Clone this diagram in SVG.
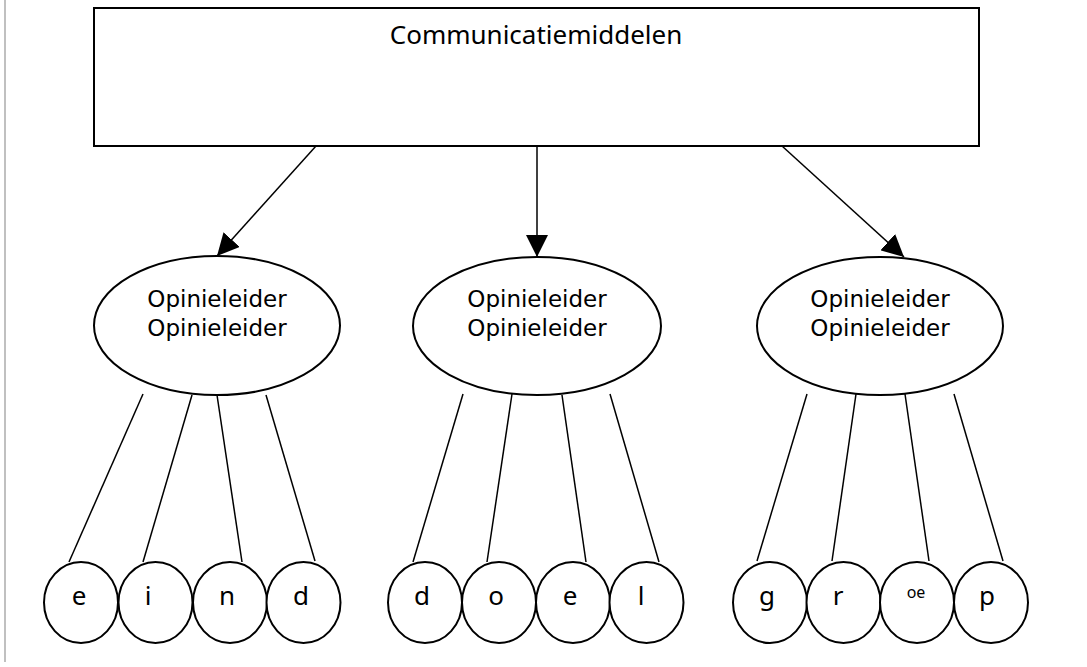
<svg xmlns="http://www.w3.org/2000/svg" width="1087" height="667" viewBox="0 0 1087 667">
<style>
.shape{fill:#fff;stroke:#000;stroke-width:2}
.edge{stroke:#000;stroke-width:1.5;fill:none}
.t{font-family:"Noto Sans","Open Sans",sans-serif;fill:#000;text-anchor:middle}
.big{font-size:26px}
.mid{font-family:"DejaVu Sans","Noto Sans",sans-serif;font-size:23px}
.let{font-size:26px}
.small{font-size:16px}
</style>
<defs>
<marker id="arr" markerUnits="userSpaceOnUse" markerWidth="22" markerHeight="22" viewBox="0 0 20 20" refX="20" refY="10" orient="auto">
<path d="M0,0 L20,10 L0,20 Z" fill="#000"/>
</marker>
</defs>
<rect width="1087" height="667" fill="#fff"/>
<line x1="5" y1="0" x2="5" y2="662" stroke="#c0c0c0" stroke-width="2"/>
<g id="connectors">
<line class="edge" x1="316" y1="146" x2="217" y2="256" marker-end="url(#arr)"/>
<line class="edge" x1="537" y1="146" x2="537" y2="257" marker-end="url(#arr)"/>
<line class="edge" x1="782" y1="146" x2="904" y2="257" marker-end="url(#arr)"/>
<line class="edge" x1="143" y1="394" x2="69" y2="562"/>
<line class="edge" x1="192" y1="395" x2="143" y2="562"/>
<line class="edge" x1="217" y1="395" x2="242" y2="562"/>
<line class="edge" x1="266" y1="395" x2="315" y2="561"/>
<line class="edge" x1="463" y1="394" x2="413" y2="562"/>
<line class="edge" x1="512" y1="394" x2="487" y2="562"/>
<line class="edge" x1="562" y1="395" x2="586" y2="562"/>
<line class="edge" x1="610" y1="394" x2="659" y2="562"/>
<line class="edge" x1="807" y1="394" x2="757" y2="561"/>
<line class="edge" x1="856" y1="394" x2="832" y2="561"/>
<line class="edge" x1="905" y1="394" x2="929" y2="561"/>
<line class="edge" x1="954" y1="394" x2="1003" y2="561"/>
</g>
<g id="communicatiemiddelen">
<rect class="shape" x="94" y="8" width="885" height="138"/>
<text class="t big" x="536" y="44">Communicatiemiddelen</text>
</g>
<g id="opinie1">
<ellipse class="shape" cx="217" cy="325.5" rx="123" ry="69.5"/>
<text class="t mid" x="217" y="307">Opinieleider</text>
<text class="t mid" x="217" y="336">Opinieleider</text>
</g>
<g id="opinie2">
<ellipse class="shape" cx="537" cy="326" rx="124" ry="69"/>
<text class="t mid" x="537" y="307">Opinieleider</text>
<text class="t mid" x="537" y="336">Opinieleider</text>
</g>
<g id="opinie3">
<ellipse class="shape" cx="880" cy="326" rx="123" ry="69"/>
<text class="t mid" x="880" y="307">Opinieleider</text>
<text class="t mid" x="880" y="336">Opinieleider</text>
</g>
<g id="c-e1"><ellipse class="shape" cx="81" cy="602.5" rx="37" ry="40.5"/><text class="t let" x="79" y="605">e</text></g>
<g id="c-i"><ellipse class="shape" cx="155.5" cy="602.5" rx="37" ry="40.5"/><text class="t let" x="148" y="605">i</text></g>
<g id="c-n"><ellipse class="shape" cx="230" cy="602.5" rx="37" ry="40.5"/><text class="t let" x="227" y="605">n</text></g>
<g id="c-d1"><ellipse class="shape" cx="303.5" cy="602.5" rx="37" ry="40.5"/><text class="t let" x="301" y="605">d</text></g>
<g id="c-d2"><ellipse class="shape" cx="425" cy="602.5" rx="37" ry="40.5"/><text class="t let" x="422" y="605">d</text></g>
<g id="c-o"><ellipse class="shape" cx="499" cy="602.5" rx="37" ry="40.5"/><text class="t let" x="496" y="605">o</text></g>
<g id="c-e2"><ellipse class="shape" cx="573" cy="602.5" rx="37" ry="40.5"/><text class="t let" x="570" y="605">e</text></g>
<g id="c-l"><ellipse class="shape" cx="646.5" cy="602.5" rx="37" ry="40.5"/><text class="t let" x="641" y="605">l</text></g>
<g id="c-g"><ellipse class="shape" cx="770" cy="602.5" rx="37" ry="40.5"/><text class="t let" x="767" y="605">g</text></g>
<g id="c-r"><ellipse class="shape" cx="843.5" cy="602.5" rx="37" ry="40.5"/><text class="t let" x="838" y="605">r</text></g>
<g id="c-oe"><ellipse class="shape" cx="917" cy="602.5" rx="37" ry="40.5"/><text class="t small" x="916" y="598">oe</text></g>
<g id="c-p"><ellipse class="shape" cx="991" cy="602.5" rx="37" ry="40.5"/><text class="t let" x="987" y="605">p</text></g>
</svg>
